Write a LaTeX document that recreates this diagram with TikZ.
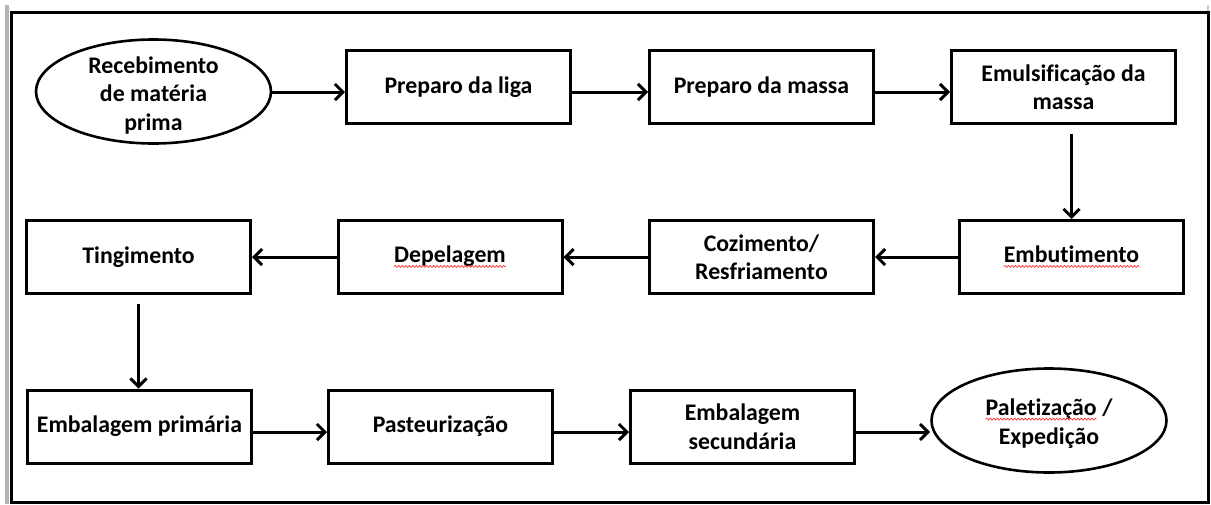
\documentclass[tikz,border=0pt]{standalone}
\usepackage{fontspec}
\setmainfont{Carlito}[Ligatures=NoCommon]
\usetikzlibrary{arrows.meta,shapes.geometric,decorations.pathmorphing}

% red wavy spell-check mark under a word
\newcommand{\spellmark}[1]{%
  \tikz[baseline=(w.base)]{%
    \node[draw=none,rectangle,inner sep=0pt,outer sep=0pt,minimum width=0pt,minimum height=0pt](w){#1};
    \draw[red!80,line width=0.7pt,decorate,decoration={snake,amplitude=1pt,segment length=3.5pt}]
      ([yshift=-3.5pt]w.base west) -- ([yshift=-3.5pt]w.base east);}}

\begin{document}
\begin{tikzpicture}[x=1pt,y=-1pt,
    every node/.style={font=\bfseries\fontsize{23.8}{28.5}\selectfont,align=center},
    box/.style={draw,line width=3pt,minimum width=224pt,minimum height=73pt,inner sep=2pt},
    oval/.style={draw,ellipse,line width=2.6pt,minimum width=235pt,minimum height=104pt,inner sep=0pt},
    flow/.style={line width=3pt,-{Straight Barb[length=8pt,width=16pt]}}]
        \useasboundingbox (0,0) rectangle (1211,504);
        \draw[gray!60,line width=4pt] (7,5)--(7,504);
        \draw[gray!40,line width=2pt] (1208,5)--(1208,12);
        \draw[line width=3pt] (11,12.5) rectangle (1208,502);

        \coordinate (r1) at (0,92);
        \coordinate (r3) at (0,432);

        % first row
        \node[oval] (rec) at (153.5,91.5) {};
        \node (rec text) at ([yshift=-4pt]rec.center) {Recebimento\\de matéria\\prima};
        \node[box] (liga) at (458.5,87) {Preparo da liga};
        \node[box] (massa) at (761.5,87) {Preparo da massa};
        \node[box] (emul) at (1063.5,87) {Emulsificação da\\massa};

        % second row
        \node[box] (embut) at (1071.5,257) {\spellmark{Embutimento}};
        \node[box] (coz) at (761.5,257) {Cozimento/\\Resfriamento};
        \node[box] (dep) at (450,257) {\spellmark{Depelagem}};
        \node[box] (ting) at (138.5,257) {Tingimento};

        % third row
        \node[box] (emb1) at (139.5,426.5) {Embalagem primária};
        \node[box] (past) at (440.5,426.5) {Pasteurização};
        \node[box] (emb2) at (742.5,426.5) {Embalagem\\secundária};
        \node[oval] (pal) at (1049,420.5) {};
        \node (pal text) at ([yshift=-3pt]pal.center) {\spellmark{Paletização} /\\Expedição};

        \draw[flow] (rec.east |- r1)--(liga.west |- r1);
        \draw[flow] (liga.east |- r1)--(massa.west |- r1);
        \draw[flow] (massa.east |- r1)--(emul.west |- r1);
        \draw[flow,shorten <=9pt] (emul.south -| embut.north)--(embut.north);

        \draw[flow] (embut.west)--(coz.east);
        \draw[flow] (coz.west)--(dep.east);
        \draw[flow] (dep.west)--(ting.east);
        \draw[flow,shorten <=9pt] (ting.south)--(ting.south |- emb1.north);

        \draw[flow] (emb1.east |- r3)--(past.west |- r3);
        \draw[flow] (past.east |- r3)--(emb2.west |- r3);
        \draw[flow] (emb2.east |- r3)--(pal.west |- r3);
    \end{tikzpicture}
\end{document}
